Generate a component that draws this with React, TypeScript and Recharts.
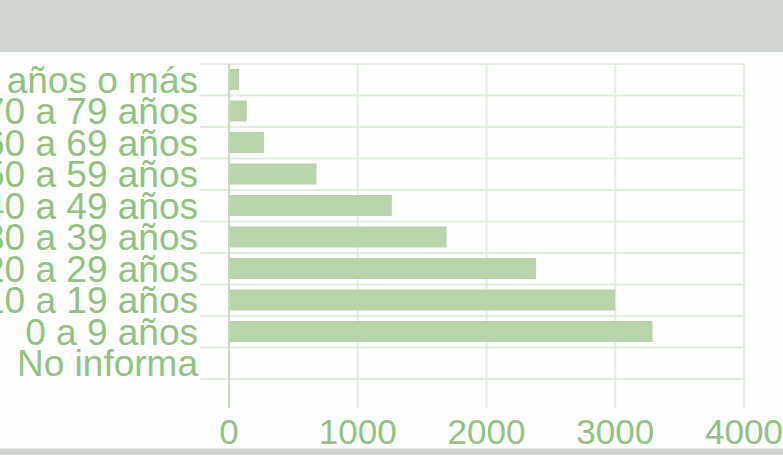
import { Bar, BarChart, CartesianGrid, ReferenceLine, XAxis, YAxis } from "recharts";

const ageGroups = [
  "80 años o más",
  "70 a 79 años",
  "60 a 69 años",
  "50 a 59 años",
  "40 a 49 años",
  "30 a 39 años",
  "20 a 29 años",
  "10 a 19 años",
  "0 a 9 años",
  "No informa",
];
const cases = [78, 138, 272, 680, 1265, 1690, 2385, 3000, 3290, 0];
const valueTicks = [0, 1000, 2000, 3000, 4000];
const valueDomain = [-225, 4000];

const TEXT = "#93c382";
const GRID = "#e3efde";
const BAR = "#b9d3ab";
const FONT = "'Liberation Sans', Arial, sans-serif";

const TICK_LEN = 29;
const TICK_GAP = 11;

/** Value-axis tick: the grid line keeps going below the plot, label under it. */
function ValueTick(props: any) {
  const { x, y, payload } = props;
  const top = y - TICK_GAP - TICK_LEN;
  return (
    <g>
      <line x1={x} x2={x} y1={top} y2={top + TICK_LEN} stroke={payload.value === 0 ? "#c9ddc0" : GRID} strokeWidth={2} />
      <text x={x} y={y} dy="0.71em" textAnchor="middle" fill={TEXT} fontSize={35} fontFamily={FONT}>
        {payload.value}
      </text>
    </g>
  );
}

// horizontal rules sit between the rows, not through the row centres
const rowEdges = ({ offset }: any) =>
  Array.from({ length: ageGroups.length + 1 }, (_, k) => offset.top + (offset.height * k) / ageGroups.length);

// vertical rules only at the labelled values (no rule at the plot's left edge)
const valueLines = ({ offset }: any) => {
  const [lo, hi] = valueDomain;
  return valueTicks.map((v) => offset.left + ((v - lo) / (hi - lo)) * offset.width);
};

export default function App() {
  const data = ageGroups.map((g, i) => ({ group: g, cases: cases[i] }));

  return (
    <div style={{ position: "absolute", left: 0, top: 0, width: 783, height: 455, background: "#fdfefd", overflow: "hidden" }}>
      <div style={{ position: "absolute", left: 0, top: 0, width: 783, height: 52, background: "#d1d6d2" }} />
      <BarChart
        width={783}
        height={455}
        data={data}
        layout="vertical"
        margin={{ top: 64, right: 39, bottom: 16, left: 0 }}
        style={{ position: "absolute", left: 0, top: 0 }}
      >
        <CartesianGrid
          stroke={GRID}
          strokeWidth={2}
          horizontalCoordinatesGenerator={rowEdges}
          verticalCoordinatesGenerator={valueLines}
        />
        <XAxis
          type="number"
          domain={valueDomain}
          ticks={valueTicks}
          allowDataOverflow
          axisLine={false}
          tickLine={false}
          tickSize={TICK_LEN}
          tickMargin={TICK_GAP}
          height={60}
          tick={<ValueTick />}
        />
        <YAxis
          type="category"
          dataKey="group"
          width={200}
          interval={0}
          axisLine={false}
          tickLine={false}
          tickSize={0}
          tickMargin={2}
          tick={{ fill: TEXT, fontSize: 37, fontFamily: FONT }}
        />
        <ReferenceLine x={0} stroke="#c9ddc0" strokeWidth={2} />
        <Bar dataKey="cases" fill={BAR} barSize={21} isAnimationActive={false} />
      </BarChart>
      <div style={{ position: "absolute", left: 0, top: 448, width: 783, height: 7, background: "#d2d6d2", borderTop: "1px solid #e6e9e6" }} />
    </div>
  );
}
